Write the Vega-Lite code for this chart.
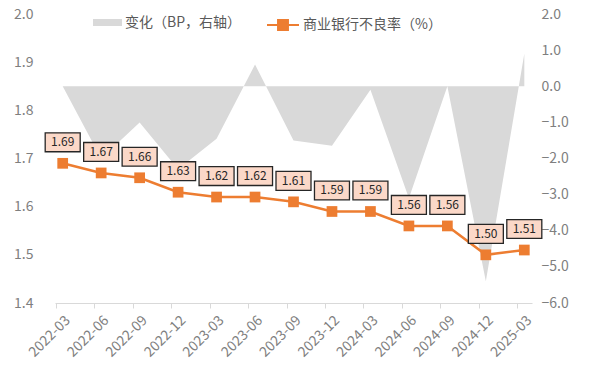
{
  "$schema": "https://vega.github.io/schema/vega-lite/v6.json",
  "width": 477,
  "height": 289,
  "autosize": "none",
  "padding": {"left": 55, "top": 14, "right": 68, "bottom": 68},
  "config": {
    "view": {"stroke": null},
    "font": "Noto Sans CJK SC",
    "axis": {"grid": false, "title": null}
  },
  "data": {
    "values": [
      {"quarter": "2022-03", "rate": 1.69, "change": 0.0, "s1": "变化（BP，右轴）", "s2": "商业银行不良率（%）"},
      {"quarter": "2022-06", "rate": 1.67, "change": -2.0, "s1": "变化（BP，右轴）", "s2": "商业银行不良率（%）"},
      {"quarter": "2022-09", "rate": 1.66, "change": -1.0, "s1": "变化（BP，右轴）", "s2": "商业银行不良率（%）"},
      {"quarter": "2022-12", "rate": 1.63, "change": -2.3, "s1": "变化（BP，右轴）", "s2": "商业银行不良率（%）"},
      {"quarter": "2023-03", "rate": 1.62, "change": -1.45, "s1": "变化（BP，右轴）", "s2": "商业银行不良率（%）"},
      {"quarter": "2023-06", "rate": 1.62, "change": 0.6, "s1": "变化（BP，右轴）", "s2": "商业银行不良率（%）"},
      {"quarter": "2023-09", "rate": 1.61, "change": -1.5, "s1": "变化（BP，右轴）", "s2": "商业银行不良率（%）"},
      {"quarter": "2023-12", "rate": 1.59, "change": -1.65, "s1": "变化（BP，右轴）", "s2": "商业银行不良率（%）"},
      {"quarter": "2024-03", "rate": 1.59, "change": -0.1, "s1": "变化（BP，右轴）", "s2": "商业银行不良率（%）"},
      {"quarter": "2024-06", "rate": 1.56, "change": -3.1, "s1": "变化（BP，右轴）", "s2": "商业银行不良率（%）"},
      {"quarter": "2024-09", "rate": 1.56, "change": 0.0, "s1": "变化（BP，右轴）", "s2": "商业银行不良率（%）"},
      {"quarter": "2024-12", "rate": 1.50, "change": -5.4, "s1": "变化（BP，右轴）", "s2": "商业银行不良率（%）"},
      {"quarter": "2025-03", "rate": 1.51, "change": 0.9, "s1": "变化（BP，右轴）", "s2": "商业银行不良率（%）"}
    ]
  },
  "encoding": {
    "x": {
      "field": "quarter",
      "type": "ordinal",
      "sort": null,
      "scale": {"type": "point", "padding": 0.2},
      "axis": {
        "labelAngle": -45,
        "labelFontSize": 14,
        "labelColor": "#7f7f7f",
        "domainColor": "#d9d9d9",
        "tickColor": "#d9d9d9",
        "tickSize": 5,
        "tickOffset": -7,
        "labelOffset": 7,
        "labelPadding": 5
      }
    }
  },
  "layer": [
    {
      "mark": {"type": "area", "opacity": 1},
      "encoding": {
        "y": {
          "field": "change",
          "type": "quantitative",
          "scale": {"domain": [-6, 2], "nice": false},
          "axis": {
            "orient": "right",
            "values": [-6, -5, -4, -3, -2, -1, 0, 1, 2],
            "format": ".1f",
            "domain": false,
            "ticks": false,
            "labelPadding": 9,
            "labelFontSize": 14,
            "labelColor": "#7f7f7f"
          }
        },
        "fill": {
          "field": "s1",
          "type": "nominal",
          "scale": {"range": ["#d9d9d9"]},
          "legend": {
            "orient": "none",
            "legendX": 38,
            "legendY": -6,
            "title": null,
            "padding": 0,
            "symbolType": "M-1,-0.24L1,-0.24L1,0.24L-1,0.24Z",
            "symbolSize": 841,
            "symbolStrokeWidth": 0,
            "symbolOpacity": 1,
            "labelFontSize": 14,
            "labelColor": "#595959",
            "labelOffset": 3
          }
        }
      }
    },
    {
      "encoding": {
        "y": {
          "field": "rate",
          "type": "quantitative",
          "scale": {"domain": [1.4, 2.0], "nice": false, "zero": false},
          "axis": {
            "orient": "left",
            "values": [1.4, 1.5, 1.6, 1.7, 1.8, 1.9, 2.0],
            "format": ".1f",
            "domain": false,
            "ticks": false,
            "labelPadding": 22,
            "labelFontSize": 14,
            "labelColor": "#7f7f7f"
          }
        }
      },
      "layer": [
        {
          "mark": {"type": "line", "strokeWidth": 2.5},
          "encoding": {
            "stroke": {
              "field": "s2",
              "type": "nominal",
              "scale": {"range": ["#ed7d31"]},
              "legend": {
                "orient": "none",
                "legendX": 211,
                "legendY": -6,
                "title": null,
                "padding": 0,
                "symbolType": "M-1,0L1,0M-0.31,-0.31L0.31,-0.31L0.31,0.31L-0.31,0.31Z",
                "symbolSize": 1024,
                "symbolStrokeWidth": 2,
                "symbolFillColor": "#ed7d31",
                "labelFontSize": 14,
                "labelColor": "#595959",
                "labelOffset": 3
              }
            }
          }
        },
        {
          "mark": {"type": "point", "shape": "square", "filled": true, "size": 115, "color": "#ed7d31", "opacity": 1},
          "encoding": {}
        },
        {
          "mark": {
            "type": "point",
            "shape": "M-1,-0.54L1,-0.54L1,0.54L-1,0.54Z",
            "size": 1225,
            "filled": true,
            "fill": "#fbd8c8",
            "stroke": "#262626",
            "strokeWidth": 1.3,
            "opacity": 1,
            "yOffset": -21
          },
          "encoding": {}
        },
        {
          "mark": {"type": "text", "fontSize": 12, "color": "#262626", "dy": -21, "baseline": "middle"},
          "encoding": {"text": {"field": "rate", "type": "quantitative", "format": ".2f"}}
        }
      ]
    }
  ],
  "resolve": {"scale": {"y": "independent", "fill": "independent", "stroke": "independent"}}
}
